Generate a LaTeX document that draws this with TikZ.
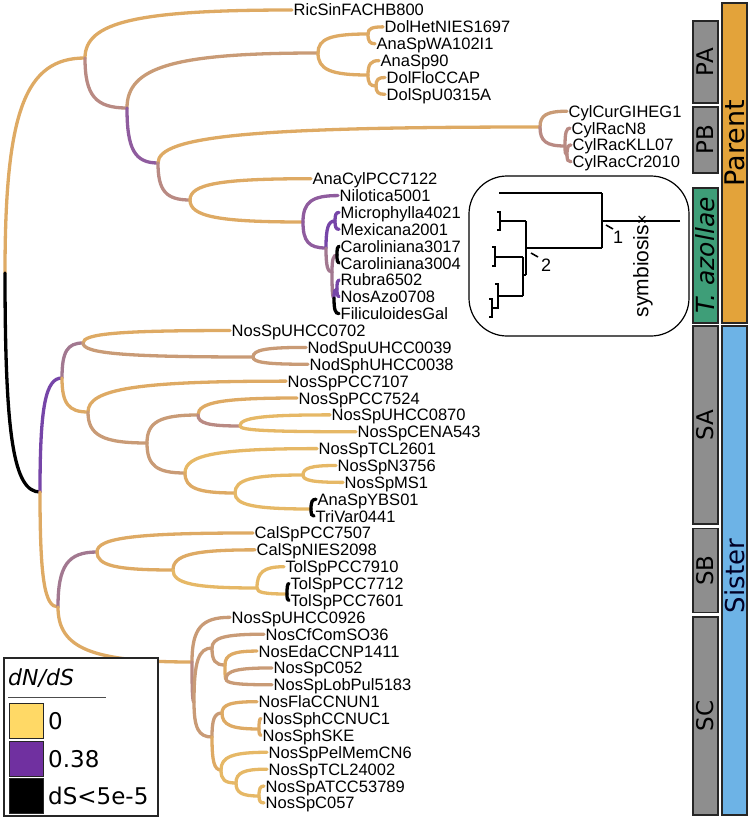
\documentclass[tikz,border=0pt]{standalone}
\usepackage{fontspec}
\setmainfont{Liberation Sans}
\newfontfamily\dvsans{DejaVu Sans}
\usetikzlibrary{calc}
\definecolor{tanA}{HTML}{DEAA64}
\definecolor{tanL}{HTML}{E6B866}
\definecolor{brn}{HTML}{C99B76}
\definecolor{mauve}{HTML}{B98A83}
\definecolor{pmauve}{HTML}{A27890}
\definecolor{purp}{HTML}{8F5C9E}
\definecolor{purpS}{HTML}{7645A8}
\definecolor{grayb}{HTML}{8E8E8E}
\definecolor{orb}{HTML}{E3A33A}
\definecolor{grb}{HTML}{3E9E78}
\definecolor{blb}{HTML}{6DB3E6}
\definecolor{legY}{HTML}{FFD966}
\definecolor{legP}{HTML}{7030A0}
\tikzset{
  branch/.style={line width=3.3bp, line cap=round},
  tip/.style={anchor=west, inner xsep=1.5bp, inner ysep=0pt, text height=12bp, text depth=0bp, font=\fontsize{16.5bp}{19bp}\selectfont},
  barbox/.style={draw=black!85, line width=1.2bp, rotate=90, minimum height=25bp, inner sep=0pt, font=\dvsans\fontsize{23bp}{24bp}\selectfont},
  swatch/.style={draw=black!85, line width=1bp, minimum width=33bp, minimum height=35bp, inner sep=0pt},
  legtext/.style={anchor=west, inner sep=0pt, font=\dvsans\fontsize{23bp}{25bp}\selectfont},
  itree/.style={line width=1.4bp, black},
}
\newcommand{\kk}{0.75}
\newcommand{\br}[3]{\draw[branch,#1] (#2) .. controls ($(#2)!\kk!(#2|-#3)$) and ($(#3)!\kk!(#2|-#3)$) .. (#3);}
\begin{document}
\begin{tikzpicture}[x=1bp,y=-1bp]
\useasboundingbox (0,0) rectangle (750,818);
% ---------- internal nodes ----------
\coordinate (R) at (5,273);
\coordinate (P1) at (85,58);
\coordinate (P2) at (127,108);
\coordinate (PA) at (318,53);
\coordinate (PA1) at (368,34);
\coordinate (PA2) at (368,75);
\coordinate (PA3) at (376,86);
\coordinate (P4) at (158,163);
\coordinate (B1) at (540,127);
\coordinate (B2) at (565,146);
\coordinate (B3) at (567,155);
\coordinate (P5) at (190,200);
\coordinate (A1) at (303,222);
\coordinate (A2) at (326,248);
\coordinate (A3) at (335,221);
\coordinate (A4) at (332,272);
\coordinate (A5) at (337,255);
\coordinate (A6) at (334,298);
\coordinate (A7) at (337,289);
\coordinate (S0) at (40,492);
\coordinate (SA0) at (62,378);
\coordinate (SA1) at (83,343);
\coordinate (N1) at (253,357);
\coordinate (SA2) at (88,412);
\coordinate (SA3) at (147,443);
\coordinate (SA4) at (198,415);
\coordinate (SA6) at (240,426);
\coordinate (SA5) at (185,473);
\coordinate (SA7) at (235,493);
\coordinate (SA8) at (303,475);
\coordinate (SA9) at (311,509);
\coordinate (SBC) at (58,607);
\coordinate (SB0) at (97,552);
\coordinate (SB1) at (173,570);
\coordinate (SB2) at (257,588);
\coordinate (SB3) at (287,594);
\coordinate (SC0) at (192,662);
\coordinate (SC1) at (194,702);
\coordinate (SC2) at (212,648);
\coordinate (SC4) at (225,665);
\coordinate (SC5) at (226,679);
\coordinate (SC3) at (212,737);
\coordinate (SC6) at (222,713);
\coordinate (SC8) at (259,729);
\coordinate (SC7) at (221,770);
\coordinate (SC9) at (236,783);
\coordinate (SC10) at (259,796);
% ---------- tips ----------
\node[tip] (t1) at (292,10) {RicSinFACHB800};
\node[tip] (t2) at (383,26.87) {DolHetNIES1697};
\node[tip] (t3) at (375,43.74) {AnaSpWA102I1};
\node[tip] (t4) at (379,60.61) {AnaSp90};
\node[tip] (t5) at (385,77.48) {DolFloCCAP};
\node[tip] (t6) at (385,94.35) {DolSpU0315A};
\node[tip] (t7) at (567,111.22) {CylCurGIHEG1};
\node[tip] (t8) at (570,128.09) {CylRacN8};
\node[tip] (t9) at (571,144.96) {CylRacKLL07};
\node[tip] (t10) at (571,161.83) {CylRacCr2010};
\node[tip] (t11) at (311,178.7) {AnaCylPCC7122};
\node[tip] (t12) at (338,195.57) {Nilotica5001};
\node[tip] (t13) at (339,212.44) {Microphylla4021};
\node[tip] (t14) at (339,229.31) {Mexicana2001};
\node[tip] (t15) at (339,246.18) {Caroliniana3017};
\node[tip] (t16) at (339,263.05) {Caroliniana3004};
\node[tip] (t17) at (339,279.92) {Rubra6502};
\node[tip] (t18) at (339,296.79) {NosAzo0708};
\node[tip] (t19) at (339,313.66) {FiliculoidesGal};
\node[tip] (t20) at (230,330.53) {NosSpUHCC0702};
\node[tip] (t21) at (306,347.4) {NodSpuUHCC0039};
\node[tip] (t22) at (308,364.27) {NodSphUHCC0038};
\node[tip] (t23) at (286,381.14) {NosSpPCC7107};
\node[tip] (t24) at (297,398.01) {NosSpPCC7524};
\node[tip] (t25) at (330,414.88) {NosSpUHCC0870};
\node[tip] (t26) at (356,431.75) {NosSpCENA543};
\node[tip] (t27) at (317,448.62) {NosSpTCL2601};
\node[tip] (t28) at (336,465.49) {NosSpN3756};
\node[tip] (t29) at (343,482.36) {NosSpMS1};
\node[tip] (t30) at (316,499.23) {AnaSpYBS01};
\node[tip] (t31) at (314,516.1) {TriVar0441};
\node[tip] (t32) at (253,532.97) {CalSpPCC7507};
\node[tip] (t33) at (255,549.84) {CalSpNIES2098};
\node[tip] (t34) at (284,566.71) {TolSpPCC7910};
\node[tip] (t35) at (289,583.58) {TolSpPCC7712};
\node[tip] (t36) at (289,600.45) {TolSpPCC7601};
\node[tip] (t37) at (230,617.32) {NosSpUHCC0926};
\node[tip] (t38) at (264,634.19) {NosCfComSO36};
\node[tip] (t39) at (257,651.06) {NosEdaCCNP1411};
\node[tip] (t40) at (272,667.93) {NosSpC052};
\node[tip] (t41) at (272,684.8) {NosSpLobPul5183};
\node[tip] (t42) at (257,701.67) {NosFlaCCNUN1};
\node[tip] (t43) at (261,718.54) {NosSphCCNUC1};
\node[tip] (t44) at (261,735.41) {NosSphSKE};
\node[tip] (t45) at (267,752.28) {NosSpPelMemCN6};
\node[tip] (t46) at (267,769.15) {NosSpTCL24002};
\node[tip] (t47) at (264,786.02) {NosSpATCC53789};
\node[tip] (t48) at (264,802.89) {NosSpC057};
% ---------- branches ----------
\br{tanA}{R}{P1}
\br{black}{R}{S0}
\br{tanA}{P1}{t1.west}
\br{mauve}{P1}{P2}
\br{brn}{P2}{PA}
\br{tanA}{PA}{PA1}
\br{tanA}{PA}{PA2}
\br{tanA}{PA1}{t2.west}
\br{tanA}{PA1}{t3.west}
\br{tanA}{PA2}{t4.west}
\br{tanA}{PA2}{PA3}
\br{tanA}{PA3}{t5.west}
\br{tanA}{PA3}{t6.west}
\br{purp}{P2}{P4}
\br{tanA}{P4}{B1}
\br{brn}{B1}{t7.west}
\br{mauve}{B1}{B2}
\br{mauve}{B2}{t8.west}
\br{mauve}{B2}{B3}
\br{mauve}{B3}{t9.west}
\br{mauve}{B3}{t10.west}
\br{mauve}{P4}{P5}
\br{tanA}{P5}{t11.west}
\br{tanA}{P5}{A1}
\br{purp}{A1}{t12.west}
\br{purp}{A1}{A2}
\br{purpS}{A2}{A3}
\br{purpS}{A3}{t13.west}
\br{purpS}{A3}{t14.west}
\br{pmauve}{A2}{A4}
\br{pmauve}{A4}{A5}
\br{black}{A5}{t15.west}
\br{black}{A5}{t16.west}
\br{pmauve}{A4}{A6}
\br{purpS}{A6}{A7}
\br{purpS}{A7}{t17.west}
\br{purpS}{A7}{t18.west}
\br{black}{A6}{t19.west}
\br{purpS}{S0}{SA0}
\br{pmauve}{SA0}{SA1}
\br{tanA}{SA1}{t20.west}
\br{brn}{SA1}{N1}
\br{brn}{N1}{t21.west}
\br{brn}{N1}{t22.west}
\br{tanA}{SA0}{SA2}
\br{tanA}{SA2}{t23.west}
\br{brn}{SA2}{SA3}
\br{brn}{SA3}{SA4}
\br{tanA}{SA4}{t24.west}
\br{mauve}{SA4}{SA6}
\br{tanL}{SA6}{t25.west}
\br{tanL}{SA6}{t26.west}
\br{brn}{SA3}{SA5}
\br{tanL}{SA5}{t27.west}
\br{tanA}{SA5}{SA7}
\br{tanL}{SA7}{SA8}
\br{tanL}{SA8}{t28.west}
\br{tanL}{SA8}{t29.west}
\br{tanL}{SA7}{SA9}
\br{black}{SA9}{t30.west}
\br{black}{SA9}{t31.west}
\br{tanA}{S0}{SBC}
\br{pmauve}{SBC}{SB0}
\br{tanA}{SB0}{t32.west}
\br{tanA}{SB0}{SB1}
\br{tanA}{SB1}{t33.west}
\br{tanL}{SB1}{SB2}
\br{tanL}{SB2}{t34.west}
\br{tanL}{SB2}{SB3}
\br{black}{SB3}{t35.west}
\br{black}{SB3}{t36.west}
\br{tanA}{SBC}{SC0}
\br{brn}{SC0}{t37.west}
\br{mauve}{SC0}{SC1}
\br{brn}{SC1}{SC2}
\br{brn}{SC1}{SC3}
\br{brn}{SC2}{t38.west}
\br{brn}{SC2}{SC4}
\br{tanA}{SC4}{t39.west}
\br{tanA}{SC4}{SC5}
\br{brn}{SC5}{t40.west}
\br{brn}{SC5}{t41.west}
\br{brn}{SC3}{SC6}
\br{tanA}{SC6}{t42.west}
\br{tanA}{SC6}{SC8}
\br{tanA}{SC8}{t43.west}
\br{tanA}{SC8}{t44.west}
\br{tanA}{SC3}{SC7}
\br{tanL}{SC7}{t45.west}
\br{tanL}{SC7}{SC9}
\br{tanL}{SC9}{t46.west}
\br{tanL}{SC9}{SC10}
\br{tanL}{SC10}{t47.west}
\br{tanL}{SC10}{t48.west}
% ---------- inset ----------
\node[draw, line width=1.2bp, rounded corners=38bp, minimum width=220bp, minimum height=160bp, inner sep=0pt] (inbox) at (579,256) {};
\coordinate (iroot) at (680,221);
\coordinate (in1) at (602,221);
\coordinate (in1t) at (602,193);
\coordinate (in1b) at (602,248);
\coordinate (itop) at (499,193);
\coordinate (in2) at (526,248);
\coordinate (in2t) at (526,221);
\coordinate (in2b) at (526,275);
\coordinate (ia) at (500,221);
\coordinate (inb) at (523,275);
\coordinate (inbt) at (523,257);
\coordinate (inbb) at (523,296);
\coordinate (ib) at (495,257);
\coordinate (ic) at (498,296);
\coordinate (id) at (492,308);
\draw[itree] (iroot) -- (in1);
\draw[itree] (in1t) -- (in1b);
\draw[itree] (in1t) -- (itop);
\draw[itree] (in1b) -- (in2);
\draw[itree] (in2t) -- (in2b);
\draw[itree] (in2t) -- (ia);
\draw[itree] (in2b) -- (inb);
\draw[itree] (inbt) -- (inbb);
\draw[itree] (inbt) -- (ib);
\draw[itree] (inbb) -- (ic);
\draw[itree] (497,212) -- (500,212) -- (500,230) -- (497,230);
\draw[itree] (492,247) -- (495,247) -- (495,266) -- (492,266);
\draw[itree] (495,284) -- (498,284) -- (498,308) -- (id);
\draw[itree] (489,299) -- (492,299) -- (492,317) -- (489,317);
\node[inner sep=0pt, font=\fontsize{17bp}{18bp}\selectfont] (cross) at (642,221) {×};
\node[rotate=90, inner sep=0pt, font=\fontsize{21bp}{22bp}\selectfont] (sym) at (643,271) {symbiosis};
\node[inner sep=0pt, font=\fontsize{18bp}{19bp}\selectfont] (lab1) at (618,237) {1};
\node[inner sep=0pt, font=\fontsize{18bp}{19bp}\selectfont] (lab2) at (546,265) {2};
\coordinate (k1a) at (606,225); \coordinate (k1b) at (613,229);
\coordinate (k2a) at (531,253); \coordinate (k2b) at (538,257);
\draw[line width=1.6bp] (k1a) -- (k1b);
\draw[line width=1.6bp] (k2a) -- (k2b);
% ---------- bars ----------
\node[barbox, fill=orb, minimum width=320bp] (parent) at (734.5,163) {};
\node[rotate=90, inner sep=0pt, font=\dvsans\fontsize{27bp}{28bp}\selectfont] (parentlab) at (735,143) {Parent};
\node[barbox, fill=blb, minimum width=489bp] (sister) at (734.5,570.5) {};
\node[rotate=90, inner sep=0pt, text=black!85!blue, font=\dvsans\fontsize{26bp}{27bp}\selectfont] (sisterlab) at (735,576) {Sister};
\node[barbox, fill=grayb, minimum width=82bp] (bPA) at (705.5,62) {PA};
\node[barbox, fill=grayb, minimum width=66bp] (bPB) at (705.5,140) {PB};
\node[barbox, fill=grb, minimum width=135bp, font=\dvsans\itshape\fontsize{25bp}{26bp}\selectfont] (bTA) at (705.5,255.5) {T. azollae};
\node[barbox, fill=grayb, minimum width=198bp] (bSA) at (705.5,425) {SA};
\node[barbox, fill=grayb, minimum width=84bp] (bSB) at (705.5,570.5) {SB};
\node[barbox, fill=grayb, minimum width=198bp] (bSC) at (705.5,716) {SC};
% ---------- legend ----------
\node[draw=black!85, fill=white, line width=1.5bp, minimum width=154bp, minimum height=158bp, inner sep=0pt, anchor=north west] (leg) at (3,657) {};
\node[anchor=west, inner sep=0pt, font=\dvsans\itshape\fontsize{22bp}{24bp}\selectfont] (legt) at (8,678) {dN/dS};
\coordinate (ruleA) at (8,697);
\coordinate (ruleB) at (106,697);
\draw[line width=0.8bp, black!70] (ruleA) -- (ruleB);
\node[swatch, fill=legY] (sw1) at (26.5,721) {};
\node[swatch, fill=legP] (sw2) at (26.5,759) {};
\node[swatch, fill=black] (sw3) at (26.5,796) {};
\node[legtext] (lg1) at (48,721) {0};
\node[legtext] (lg2) at (48,759) {0.38};
\node[legtext] (lg3) at (48,796) {dS<5e-5};
\end{tikzpicture}
\end{document}
